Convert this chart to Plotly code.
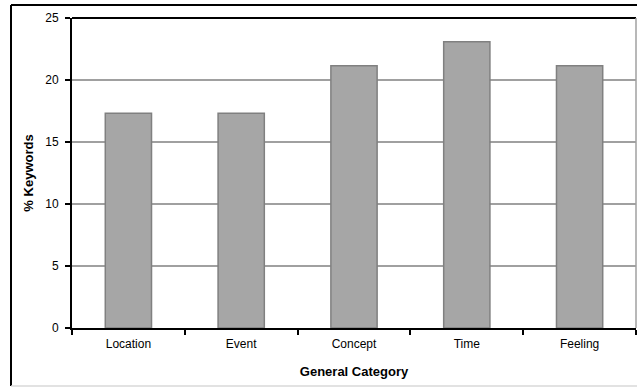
import plotly.graph_objects as go

categories = ["Location", "Event", "Concept", "Time", "Feeling"]
keyword_pct = [17.31, 17.31, 21.15, 23.08, 21.15]
y_ticks = [0, 5, 10, 15, 20, 25]

W, H = 637, 387
ML, MR, MT, MB = 72, 1, 18, 59
PW, PH = W - ML - MR, H - MT - MB


def px_x(x):
    return (x - ML) / PW


def px_y(y):
    return (H - MB - y) / PH


fig = go.Figure(
    go.Bar(
        x=categories,
        y=keyword_pct,
        marker=dict(color="#a6a6a6", line=dict(color="#808080", width=1.5)),
        width=0.41,
        hoverinfo="x+y",
    )
)

font = "Liberation Sans, Arial, sans-serif"

fig.update_layout(
    width=W,
    height=H,
    margin=dict(l=ML, r=MR, t=MT, b=MB),
    paper_bgcolor="white",
    plot_bgcolor="white",
    showlegend=False,
    font=dict(family=font, color="black", size=12),
    xaxis=dict(
        showline=True,
        linecolor="black",
        linewidth=2,
        ticks="outside",
        tickson="boundaries",
        ticklen=5,
        tickwidth=2,
        tickcolor="black",
        tickfont=dict(size=12),
        ticklabelstandoff=4,
        title=dict(text="<b>General Category</b>", font=dict(size=13), standoff=16),
        showgrid=False,
    ),
    yaxis=dict(
        range=[0, 25],
        tickvals=y_ticks,
        showline=True,
        linecolor="black",
        linewidth=2,
        ticks="outside",
        ticklen=5,
        tickwidth=2,
        tickcolor="black",
        tickfont=dict(size=12),
        ticklabelstandoff=4,
        showgrid=True,
        gridcolor="#a0a0a0",
        gridwidth=1.5,
        zeroline=False,
        title=dict(text="<b>% Keywords</b>", font=dict(size=13), standoff=9),
    ),
    shapes=[
        # plot frame: dark top, grey right
        dict(type="line", xref="paper", yref="paper", x0=0, x1=1, y0=1, y1=1,
             line=dict(color="black", width=2)),
        dict(type="line", xref="paper", yref="paper", x0=1, x1=1, y0=0, y1=1,
             line=dict(color="#a0a0a0", width=1.5)),
        # outer chart border
        dict(type="line", xref="paper", yref="paper",
             x0=px_x(11), x1=px_x(11), y0=px_y(386), y1=px_y(5),
             line=dict(color="black", width=2)),
        dict(type="line", xref="paper", yref="paper",
             x0=px_x(11), x1=px_x(640), y0=px_y(5), y1=px_y(5),
             line=dict(color="black", width=2)),
        dict(type="line", xref="paper", yref="paper",
             x0=px_x(11), x1=px_x(640), y0=px_y(386), y1=px_y(386),
             line=dict(color="#d8d8d8", width=1.5)),
    ],
)

fig.write_html("out.html")
